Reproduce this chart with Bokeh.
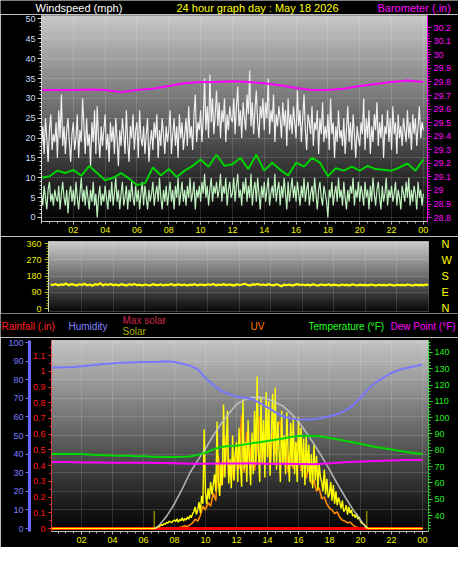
from bokeh.plotting import figure
from bokeh.models import Range1d, LinearAxis, FixedTicker, Label
from bokeh.layouts import column
from bokeh.embed import file_html
from bokeh.resources import INLINE

FONT = "Liberation Sans"

# ---------------- data ----------------
hours_5min = [i / 12 for i in range(289)]
hours_10min = [i / 6 for i in range(145)]
hours_30min = [i / 2 for i in range(49)]
hours_1h = list(range(25))

gust_mph = [18, 23, 16, 25, 20, 14, 22, 26, 17, 21, 19, 24,
            15, 27, 20, 31, 18, 23, 16, 22, 25, 19, 14, 21,
            24, 17, 20, 26, 15, 22, 19, 30, 23, 16, 25, 18,
            21, 13, 24, 19, 27, 16, 28, 20, 15, 23, 18, 22,
            26, 17, 21, 14, 24, 19, 23, 16, 25, 20, 13, 22,
            18, 25, 21, 16, 27, 19, 14, 23, 20, 26, 17, 22,
            24, 15, 27, 20, 18, 23, 16, 21, 25, 14, 19, 22,
            17, 24, 20, 26, 15, 22, 18, 25, 21, 16, 23, 19,
            22, 27, 16, 21, 25, 18, 23, 15, 26, 20, 24, 17,
            21, 25, 18, 28, 20, 23, 17, 26, 31, 19, 24, 22,
            27, 19, 25, 35, 22, 28, 20, 36, 24, 30, 21, 26,
            32, 23, 29, 20, 27, 24, 30, 19, 26, 22, 28, 25,
            24, 30, 21, 28, 33, 23, 27, 20, 29, 25, 22, 31,
            26, 37, 23, 29, 21, 27, 32, 24, 20, 28, 25, 30,
            22, 29, 25, 35, 21, 27, 24, 31, 19, 26, 23, 28,
            25, 20, 29, 23, 27, 18, 30, 22, 26, 21, 28, 24,
            20, 32, 23, 27, 19, 25, 31, 22, 17, 26, 24, 21,
            28, 18, 24, 22, 27, 16, 25, 21, 29, 19, 23, 20,
            26, 17, 30, 21, 24, 15, 23, 19, 27, 20, 22, 18,
            25, 16, 22, 28, 19, 24, 17, 26, 21, 15, 23, 20,
            18, 24, 21, 30, 17, 25, 20, 27, 16, 23, 19, 26,
            22, 29, 18, 24, 20, 26, 15, 23, 21, 27, 19, 25,
            17, 28, 21, 24, 16, 26, 20, 23, 18, 25, 22, 19,
            27, 20, 24, 17, 26, 21, 25, 18, 23, 28, 20, 24,
            22]

wind_mph = [6, 3, 8, 5, 2, 7, 9, 4, 6, 3, 7, 5,
            4, 8, 2, 6, 9, 5, 3, 7, 1, 6, 8, 4,
            7, 3, 9, 5, 2, 6, 10, 4, 7, 3, 8, 5,
            2, 7, 4, 9, 3, 6, 0, 5, 8, 3, 6, 4,
            8, 5, 2, 7, 4, 9, 3, 6, 10, 4, 7, 2,
            6, 9, 3, 5, 8, 2, 7, 4, 9, 5, 3, 8,
            4, 7, 2, 6, 9, 3, 8, 5, 2, 7, 4, 6,
            9, 3, 6, 8, 4, 10, 5, 2, 7, 4, 8, 3,
            6, 9, 4, 7, 2, 8, 5, 10, 3, 6, 9, 4,
            7, 3, 8, 5, 10, 4, 6, 9, 2, 7, 5, 8,
            4, 9, 6, 11, 5, 8, 3, 7, 10, 4, 8, 6,
            9, 5, 7, 11, 4, 8, 6, 10, 3, 7, 9, 5,
            6, 10, 4, 8, 11, 5, 7, 3, 9, 6, 10, 4,
            8, 5, 11, 3, 7, 9, 4, 10, 6, 2, 8, 5,
            9, 4, 7, 10, 3, 6, 8, 5, 11, 4, 7, 9,
            3, 8, 5, 10, 6, 2, 9, 4, 7, 10, 5, 8,
            4, 9, 6, 3, 8, 5, 10, 4, 7, 9, 3, 6,
            8, 4, 10, 6, 2, 7, 9, 5, 3, 8, 6, 4,
            0, 7, 5, 9, 3, 6, 8, 4, 10, 5, 7, 3,
            9, 5, 2, 7, 4, 8, 6, 10, 3, 7, 5, 9,
            4, 8, 6, 3, 9, 5, 7, 2, 8, 4, 10, 6,
            3, 7, 9, 5, 2, 8, 4, 6, 10, 3, 7, 5,
            8, 4, 6, 9, 3, 7, 5, 2, 8, 6, 4, 9,
            5, 10, 3, 7, 4, 8, 6, 2, 9, 5, 7, 3,
            6]

wind_avg_mph = [10.0, 10.4, 11.8, 11.2, 12.0, 10.5, 13.0, 11.2, 9.4, 10.0,
                11.2, 9.8, 8.2, 8.6, 12.6, 10.6, 12.2, 10.2, 11.8, 13.0,
                14.6, 12.8, 15.8, 13.0, 13.4, 15.0, 12.2, 15.8, 11.8, 13.8,
                12.0, 10.6, 13.8, 12.8, 15.0, 13.8, 10.4, 12.4, 11.8, 12.8,
                11.8, 13.0, 12.2, 12.0, 11.8, 12.6, 13.6, 11.8, 14.6]

baro_in = [29.74, 29.74, 29.74, 29.745, 29.74, 29.725, 29.74, 29.75, 29.77,
           29.79, 29.80, 29.80, 29.805, 29.80, 29.79, 29.775, 29.755, 29.74,
           29.74, 29.75, 29.77, 29.785, 29.80, 29.81, 29.80]

wind_dir_deg = [133, 130, 136, 128, 134, 131, 138, 129, 135, 132, 127, 134,
                130, 137, 129, 133, 126, 135, 131, 140, 128, 134, 130, 136,
                129, 133, 127, 135, 131, 128, 134, 130, 136, 129, 132, 127,
                133, 130, 128, 135, 131, 129, 134, 127, 132, 130, 136, 128,
                131, 134, 129, 133, 127, 132, 130, 135, 128, 133, 131, 129,
                134, 130, 136, 128, 132, 130, 135, 129, 133, 131, 127, 134,
                130, 133, 137, 131, 128, 134, 132, 136, 130, 133, 129, 135,
                131, 128, 134, 130, 123, 132, 129, 133, 127, 131, 135, 130,
                133, 129, 132, 128, 134, 130, 127, 133, 131, 129, 134, 128,
                132, 130, 127, 133, 129, 131, 128, 134, 130, 128, 132, 129,
                131, 128, 133, 130, 127, 132, 129, 131, 128, 133, 130, 127,
                132, 129, 131, 128, 133, 130, 127, 132, 129, 131, 128, 133,
                130]

humidity_pct = [86.6, 86.6, 86.7, 86.9, 87.2, 87.7, 88.0, 88.4, 88.8, 89.1,
                89.3, 89.4, 89.5, 89.6, 89.7, 90.0, 89.5, 88.6, 87.6, 85.6,
                81.0, 77.2, 74.0, 72.4, 70.8, 70.4, 69.6, 67.6, 65.2, 62.6,
                60.2, 59.2, 58.8, 58.6, 58.8, 59.4, 60.4, 61.4, 63.4, 66.0,
                70.4, 75.0, 78.6, 81.3, 83.6, 85.3, 86.3, 87.2, 88.2]

temp_f = [77.8, 77.8, 77.8, 77.8, 77.7, 77.4, 77.2, 77.0, 76.8, 76.7,
          76.6, 76.4, 76.3, 76.1, 76.0, 75.9, 75.9, 76.0, 76.2, 77.2,
          78.5, 80.5, 82.0, 82.6, 82.8, 83.5, 84.3, 85.0, 85.7, 86.5,
          87.3, 88.2, 88.8, 88.9, 88.7, 88.4, 87.6, 86.7, 85.8, 85.0,
          84.0, 83.0, 82.0, 81.2, 80.5, 79.7, 79.0, 78.3, 77.8]

dew_f = [72.9, 72.8, 72.6, 72.5, 72.4, 72.4, 72.3, 72.2, 72.0, 71.8,
         71.8, 71.9, 71.9, 72.0, 71.8, 71.7, 71.6, 71.5, 72.0, 72.7,
         73.2, 73.5, 73.8, 74.0, 74.1]

rain_in = [0, 0, 0, 0, 0, 0, 0, 0, 0, 0, 0, 0, 0,
           0, 0, 0, 0, 0, 0, 0, 0, 0, 0, 0, 0]

solar_wm2 = [0, 0, 0, 0, 0, 0, 0, 0, 0, 0, 0, 0,
             0, 0, 0, 0, 0, 0, 0, 0, 0, 0, 0, 0,
             0, 0, 0, 0, 0, 0, 0, 0, 0, 0, 0, 0,
             0, 0, 0, 0, 0, 0, 0, 0, 0, 0, 0, 0,
             0, 0, 0, 0, 0, 0, 0, 0, 0, 0, 0, 0,
             0, 0, 0, 0, 0, 0, 0, 0, 0, 0, 0, 0,
             0, 0, 0, 0, 0, 0, 0, 0, 0, 2, 5, 8,
             12, 18, 25, 20, 32, 28, 40, 35, 48, 42, 38, 50,
             55, 45, 62, 40, 58, 50, 70, 48, 65, 55, 75, 60,
             85, 70, 95, 110, 140, 90, 120, 170, 100, 210, 160, 640,
             230, 160, 260, 190, 300, 220, 280, 350, 240, 690, 300, 210,
             420, 280, 800, 330, 520, 760, 290, 450, 260, 600, 310, 480,
             560, 300, 650, 420, 270, 830, 380, 560, 300, 700, 450, 280,
             620, 350, 760, 410, 980, 500, 300, 850, 420, 700, 330, 880,
             460, 820, 340, 600, 870, 410, 910, 380, 690, 500, 300, 760,
             420, 600, 350, 750, 480, 300, 680, 400, 720, 350, 560, 300,
             720, 420, 650, 330, 580, 280, 600, 360, 540, 300, 480, 260,
             540, 310, 470, 250, 420, 330, 300, 240, 380, 220, 320, 200,
             220, 300, 180, 280, 160, 240, 150, 200, 170, 130, 180, 110,
             120, 150, 90, 140, 100, 120, 80, 90, 70, 95, 60, 75,
             45, 35, 30, 25, 15, 8, 0, 0, 0, 0, 0, 0,
             0, 0, 0, 0, 0, 0, 0, 0, 0, 0, 0, 0,
             0, 0, 0, 0, 0, 0, 0, 0, 0, 0, 0, 0,
             0, 0, 0, 0, 0, 0, 0, 0, 0, 0, 0, 0,
             0]

uv_index = [0, 0, 0, 0, 0, 0, 0, 0, 0, 0, 0, 0,
            0, 0, 0, 0, 0, 0, 0, 0, 0, 0, 0, 0,
            0, 0, 0, 0, 0, 0, 0, 0, 0, 0, 0, 0,
            0, 0, 0, 0, 0, 0, 0, 0, 0, 0, 0, 0,
            0, 0, 0.05, 0.1, 0.15, 0.1, 0.2, 0.3, 0.5, 0.4, 0.7, 1.2,
            1.0, 1.4, 1.2, 1.9, 1.5, 3.9, 2.3, 3.0, 5.0, 2.8, 3.6, 2.6,
            4.5, 3.2, 6.1, 3.0, 5.2, 3.5, 4.8, 3.1, 4.3, 6.0, 3.6, 5.0,
            5.6, 3.3, 5.2, 4.0, 5.5, 5.8, 3.5, 4.7, 3.0, 4.2, 3.2, 4.6,
            4.4, 3.1, 3.9, 2.7, 3.3, 2.4, 2.6, 2.0, 2.2, 1.6, 1.7, 1.3,
            1.1, 1.0, 0.8, 0.9, 0.6, 0.45, 0.4, 0.3, 0.35, 0.2, 0.1, 0.05,
            0, 0, 0, 0, 0, 0, 0, 0, 0, 0, 0, 0,
            0, 0, 0, 0, 0, 0, 0, 0, 0, 0, 0, 0,
            0]

max_solar_hours = [6.75, 7.0, 7.5, 8.0, 8.5, 9.0, 9.5, 10.0, 10.5, 11.0, 11.5,
                   12.0, 12.5, 13.0, 13.5, 14.0, 14.5, 15.0, 15.5, 16.0, 16.5,
                   17.0, 17.5, 18.0, 18.5, 19.0, 19.5, 20.0, 20.4]
max_solar_wm2 = [0, 20, 80, 160, 255, 360, 440, 515, 600, 674, 740,
                 800, 830, 845, 847, 835, 815, 790, 745, 690, 620,
                 545, 465, 380, 290, 205, 125, 55, 0]

sun_event_hours = [6.7, 20.4]

hour_ticks = [2, 4, 6, 8, 10, 12, 14, 16, 18, 20, 22, 24]
hour_tick_labels = ["02", "04", "06", "08", "10", "12", "14", "16", "18", "20", "22", "00"]
hour_minor = [i / 2 for i in range(49)]

wind_ticks = [0, 5, 10, 15, 20, 25, 30, 35, 40, 45, 50]
baro_ticks = [28.8, 28.9, 29.0, 29.1, 29.2, 29.3, 29.4, 29.5, 29.6, 29.7, 29.8, 29.9, 30.0, 30.1, 30.2]
baro_tick_labels = ["28.8", "28.9", "29", "29.1", "29.2", "29.3", "29.4", "29.5", "29.6",
                    "29.7", "29.8", "29.9", "30", "30.1", "30.2"]
dir_ticks = [0, 90, 180, 270, 360]
dir_letters = ["N", "E", "S", "W", "N"]
rain_ticks = [0, 0.1, 0.2, 0.3, 0.4, 0.5, 0.6, 0.7, 0.8, 0.9, 1.0, 1.1]
rain_tick_labels = ["0", "0.1", "0.2", "0.3", "0.4", "0.5", "0.6", "0.7", "0.8", "0.9", "1", "1.1"]
hum_ticks = [0, 10, 20, 30, 40, 50, 60, 70, 80, 90, 100]
temp_ticks = [40, 50, 60, 70, 80, 90, 100, 110, 120, 130, 140]


# ---------------- helpers ----------------
def add_gradient(p, top_rgb, bot_rgb, n=64):
    xr, yr = p.x_range, p.y_range
    step = (yr.end - yr.start) / n
    bottoms = [yr.start + i * step for i in range(n)]
    tops = [yr.start + (i + 1) * step for i in range(n)]
    cols = []
    for i in range(n):
        f = (i + 0.5) / n
        c = tuple(int(round(b + (t - b) * f)) for t, b in zip(top_rgb, bot_rgb))
        cols.append("#%02x%02x%02x" % c)
    r = p.quad(left=xr.start, right=xr.end, bottom=bottoms, top=tops,
               fill_color=cols, line_color=cols, line_width=1)
    r.level = "image"


def style_axis(ax, label_color, line_color, size="9px", tick_out=4, minor_out=2, standoff=2):
    ax.major_label_text_color = label_color
    ax.major_label_text_font = FONT
    ax.major_label_text_font_size = size
    ax.axis_line_color = line_color
    ax.major_tick_line_color = line_color
    ax.minor_tick_line_color = line_color
    ax.major_tick_in = 0
    ax.major_tick_out = tick_out
    ax.minor_tick_in = 0
    ax.minor_tick_out = minor_out
    ax.major_label_standoff = standoff


def style_grid(g):
    g.grid_line_color = "#ffffff"
    g.grid_line_alpha = 0.28
    g.grid_line_dash = "1 1"


def header_fig(height):
    h = figure(width=458, height=height, x_range=Range1d(0, 458), y_range=Range1d(0, height),
               output_backend="svg", toolbar_location=None, min_border=0,
               x_axis_location=None, y_axis_location=None, frame_align=False,
               background_fill_color="black", border_fill_color="black",
               outline_line_color=None)
    h.grid.visible = False
    return h


def add_text(p, text, x, y, color, size="11px", baseline="middle"):
    p.add_layout(Label(x=x, y=y, x_units="screen", y_units="screen", text=text,
                       text_color=color, text_font=FONT, text_font_size=size,
                       text_baseline=baseline, text_align="left"))


common = dict(output_backend="svg", toolbar_location=None, frame_align=False,
              background_fill_color="black", border_fill_color="black",
              outline_line_color=None)

# ---------------- header above top chart ----------------
h1 = header_fig(14)
add_text(h1, "Windspeed (mph)", 35, 7, "#ffffff", "11px")
add_text(h1, "24 hour graph day : May 18 2026", 176, 7, "#ffff00", "11px")
add_text(h1, "Barometer (.in)", 377, 7, "#ff00ff", "11px")

# ---------------- top: wind speed / barometer ----------------
p1 = figure(width=458, height=222, x_range=Range1d(0, 24.26), y_range=Range1d(-1.01, 50.88),
            min_border_left=41, min_border_right=31, min_border_top=1, min_border_bottom=15,
            **common)
p1.extra_y_ranges = {"baro": Range1d(28.771, 30.29)}
add_gradient(p1, (0xc8, 0xc8, 0xc8), (0, 0, 0))

p1.line(hours_5min, gust_mph, line_color="#f0f0f0", line_width=1.2)
p1.line(hours_5min, wind_mph, line_color="#bff2bf", line_width=1.2)
p1.line(hours_30min, wind_avg_mph, line_color="#00d400", line_width=2)
p1.line(hours_1h, baro_in, y_range_name="baro", line_color="#ff00ff", line_width=2)

ax = p1.yaxis[0]
ax.ticker = FixedTicker(ticks=wind_ticks, minor_ticks=list(range(0, 51)))
style_axis(ax, "#c8dcff", "#d8d8d8")
bax = LinearAxis(y_range_name="baro")
bax.ticker = FixedTicker(ticks=baro_ticks, minor_ticks=[28.8 + i * 0.02 for i in range(71)])
bax.major_label_overrides = dict(zip(baro_ticks, baro_tick_labels))
style_axis(bax, "#ff00ff", "#ff00ff")
p1.add_layout(bax, "right")
xa = p1.xaxis[0]
xa.ticker = FixedTicker(ticks=hour_ticks, minor_ticks=hour_minor)
xa.major_label_overrides = dict(zip(hour_ticks, hour_tick_labels))
style_axis(xa, "#f0f000", "#bdbdbd", tick_out=3, minor_out=2, standoff=2)
p1.xgrid.ticker = FixedTicker(ticks=hour_ticks)
p1.ygrid.ticker = FixedTicker(ticks=wind_ticks)
style_grid(p1.xgrid[0])
style_grid(p1.ygrid[0])

# ---------------- middle: wind direction ----------------
p2 = figure(width=458, height=77, x_range=Range1d(-0.12, 24.0), y_range=Range1d(-16.6, 371.1),
            min_border_left=48, min_border_right=30, min_border_top=5, min_border_bottom=2,
            **common)
add_gradient(p2, (0xcc, 0xcc, 0xcc), (0x08, 0x08, 0x08))
p2.line(hours_10min, wind_dir_deg, line_color="#ffff00", line_width=2.2)
p2.xaxis.visible = False
p2.outline_line_color = "#8a8a8a"
da = p2.yaxis[0]
da.ticker = FixedTicker(ticks=dir_ticks, minor_ticks=list(range(0, 361, 15)))
style_axis(da, "#e8e800", "#e0e0e0", tick_out=4, minor_out=2, standoff=3)
da.major_tick_line_color = "#b0b000"
da.minor_tick_line_color = "#b0b000"
ra = LinearAxis()
ra.ticker = FixedTicker(ticks=dir_ticks)
ra.major_label_overrides = dict(zip(dir_ticks, dir_letters))
style_axis(ra, "#ffff00", None, size="11px", tick_out=0, minor_out=0, standoff=13)
ra.axis_line_color = None
ra.major_tick_line_color = None
ra.minor_tick_line_color = None
p2.add_layout(ra, "right")
p2.xgrid.ticker = FixedTicker(ticks=hour_ticks)
p2.ygrid.ticker = FixedTicker(ticks=[90, 180, 270])
style_grid(p2.xgrid[0])
style_grid(p2.ygrid[0])

# ---------------- header above bottom chart ----------------
h3 = header_fig(24)
add_text(h3, "Rainfall (.in)", 1, 11, "#ff2020", "10px")
add_text(h3, "Humidity", 68, 11, "#8080ff", "10px")
add_text(h3, "Max solar", 122, 17.5, "#d0284c", "10px")
add_text(h3, "Solar", 122, 6.5, "#b0b000", "10px")
add_text(h3, "UV", 250, 11, "#ff7f00", "10px")
add_text(h3, "Temperature (°F)", 308, 11, "#22ff22", "10px")
add_text(h3, "Dew Point (°F)", 390, 11, "#ff00ff", "10px")

# ---------------- bottom: rain / humidity / solar / UV / temps ----------------
p3 = figure(width=458, height=210, x_range=Range1d(0.065, 24.39), y_range=Range1d(-0.019, 1.196),
            min_border_left=51, min_border_right=30, min_border_top=3, min_border_bottom=16,
            **common)
p3.extra_y_ranges = {"hum": Range1d(-1.6, 101.1), "temp": Range1d(30.24, 147.3),
                     "solar": Range1d(-19.2, 1213.0), "uv": Range1d(-0.16, 10.11)}
add_gradient(p3, (0xc4, 0xc4, 0xc4), (0, 0, 0))
p3.outline_line_color = "#bdbdbd"

p3.line(hours_10min, uv_index, y_range_name="uv", line_color="#ff8a00", line_width=1.6)
p3.line(hours_1h, rain_in, line_color="#ff0000", line_width=3)
p3.line(hours_5min, solar_wm2, y_range_name="solar", line_color="#ffff00", line_width=1.4)
p3.line(max_solar_hours, max_solar_wm2, y_range_name="solar", line_color="#c8c8c8", line_width=1.6, line_alpha=0.85)
p3.line(hours_30min, humidity_pct, y_range_name="hum", line_color="#7878ff", line_width=2)
p3.line(hours_30min, temp_f, y_range_name="temp", line_color="#00d800", line_width=2)
p3.line(hours_1h, dew_f, y_range_name="temp", line_color="#ff00ff", line_width=2)
p3.segment(x0=sun_event_hours, y0=0, x1=sun_event_hours, y1=115, y_range_name="solar",
           line_color="#ffff00", line_width=1.5, line_dash="1 1")

rax = p3.yaxis[0]
rax.ticker = FixedTicker(ticks=rain_ticks, minor_ticks=[i * 0.05 for i in range(24)])
rax.major_label_overrides = dict(zip(rain_ticks, rain_tick_labels))
style_axis(rax, "#ff1a1a", "#ff3030", tick_out=3, minor_out=2, standoff=3)
rax.axis_line_dash = "2 1"
hax = LinearAxis(y_range_name="hum")
hax.ticker = FixedTicker(ticks=hum_ticks)
style_axis(hax, "#7b7bff", "#6a6aff", tick_out=4, standoff=2)
hax.axis_line_width = 3
p3.add_layout(hax, "left")
tax = LinearAxis(y_range_name="temp")
tax.ticker = FixedTicker(ticks=temp_ticks, minor_ticks=list(range(32, 148, 2)))
style_axis(tax, "#22ee22", "#22dd22", tick_out=4, standoff=2)
tax.axis_line_dash = "2 1"
p3.add_layout(tax, "right")
xb = p3.xaxis[0]
xb.ticker = FixedTicker(ticks=hour_ticks, minor_ticks=hour_minor)
xb.major_label_overrides = dict(zip(hour_ticks, hour_tick_labels))
style_axis(xb, "#f0f000", "#bdbdbd", tick_out=3, minor_out=2, standoff=2)
p3.xgrid.ticker = FixedTicker(ticks=hour_ticks)
p3.ygrid.ticker = FixedTicker(ticks=hum_ticks)
p3.ygrid.y_range_name = "hum"
style_grid(p3.xgrid[0])
style_grid(p3.ygrid[0])

layout = column(h1, p1, p2, h3, p3)
open("out.html", "w").write(file_html(layout, INLINE, title="24 hour graph"))
